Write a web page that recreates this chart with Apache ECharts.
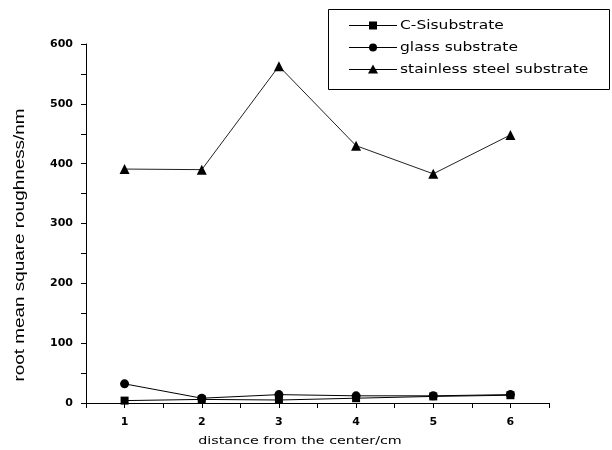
<!DOCTYPE html>
<html>
<head>
<meta charset="utf-8">
<script src="https://cdn.jsdelivr.net/npm/echarts@6/dist/echarts.min.js"></script>
<style>
  html, body { margin: 0; padding: 0; background: #fff; }
  #chart { width: 612px; height: 450px; }
</style>
</head>
<body>
<div id="chart"></div>
<script>
// distance from the center (cm)
const distances = [1, 2, 3, 4, 5, 6];
// root mean square roughness (nm) per substrate
const cSiValues = [4, 6, 5, 8, 11, 13];
const glassValues = [32, 8, 14, 12, 12, 14];
const steelValues = [391, 390, 563, 430, 383, 448];
const seriesNames = ['C-Sisubstrate', 'glass substrate', 'stainless steel substrate'];
const seriesSymbols = ['rect', 'circle', 'triangle'];
const xTitle = 'distance from the center/cm';
const yTitle = 'root mean square roughness/nm';

const pairs = vals => distances.map((d, i) => [d, vals[i]]);

const tickFont = { fontFamily: 'DejaVu Sans', fontWeight: 'bold', fontSize: 11, color: '#000' };
const axisLine = { lineStyle: { color: '#000', width: 1 } };

function lineSeries(name, vals, symbol, size, lineColor) {
  return {
    name: name,
    type: 'line',
    data: pairs(vals),
    symbol: symbol,
    symbolSize: size,
    showSymbol: true,
    itemStyle: { color: '#000' },
    lineStyle: { color: lineColor, width: 1 },
    emphasis: { disabled: true },
    animation: false
  };
}

// boxed key: short line with the series symbol, then the name
function legendGraphic() {
  const box = { left: 328, top: 9, width: 281, height: 80 };
  const rowY = [25.5, 47.5, 69.5];
  const children = [{
    type: 'rect',
    shape: { x: box.left + 0.5, y: box.top + 0.5, width: box.width, height: box.height },
    style: { fill: '#fff', stroke: '#000', lineWidth: 1 }
  }];
  rowY.forEach((y, i) => {
    children.push({
      type: 'line',
      shape: { x1: 349, y1: y, x2: 397, y2: y },
      style: { stroke: '#000', lineWidth: 1 }
    });
    const cx = 373;
    if (seriesSymbols[i] === 'rect') {
      children.push({ type: 'rect', shape: { x: cx - 4, y: y - 4, width: 8, height: 8 }, style: { fill: '#000' } });
    } else if (seriesSymbols[i] === 'circle') {
      children.push({ type: 'circle', shape: { cx: cx, cy: y, r: 4 }, style: { fill: '#000' } });
    } else {
      children.push({ type: 'polygon', shape: { points: [[cx, y - 5], [cx + 5, y + 4], [cx - 5, y + 4]] }, style: { fill: '#000' } });
    }
    children.push({
      type: 'text',
      x: 400, y: y,
      scaleX: 1.29,
      style: {
        text: seriesNames[i], fill: '#000',
        font: '12px "DejaVu Sans"', textAlign: 'left', textVerticalAlign: 'middle'
      }
    });
  });
  return { type: 'group', z: 100, children: children };
}

const chart = echarts.init(document.getElementById('chart'), null, { renderer: 'canvas' });
chart.setOption({
  backgroundColor: '#fff',
  animation: false,
  grid: { left: 86, top: 44, right: 63, bottom: 47, containLabel: false },
  xAxis: {
    type: 'value',
    min: 0.5,
    max: 6.5,
    interval: 0.5,
    axisLine: Object.assign({ onZero: false }, axisLine),
    axisTick: { show: true, inside: false, length: 5, lineStyle: { color: '#000' } },
    axisLabel: Object.assign({
      margin: 14,
      formatter: v => (Math.abs(v - Math.round(v)) < 1e-9 ? String(Math.round(v)) : '')
    }, tickFont),
    splitLine: { show: false }
  },
  yAxis: {
    type: 'value',
    min: 0,
    max: 600,
    interval: 50,
    axisLine: axisLine,
    axisTick: { show: true, inside: false, length: 5, lineStyle: { color: '#000' } },
    axisLabel: Object.assign({
      margin: 13,
      formatter: v => (v % 100 === 0 ? String(v) : '')
    }, tickFont),
    splitLine: { show: false }
  },
  graphic: [
    {
      type: 'text', x: 300, y: 441, scaleX: 1.3,
      style: {
        text: xTitle, fill: '#000', font: '11px "DejaVu Sans"',
        textAlign: 'center', textVerticalAlign: 'middle'
      }
    },
    {
      type: 'text', x: 20, y: 245, rotation: Math.PI / 2, scaleX: 1.35,
      style: {
        text: yTitle, fill: '#000', font: '14px "Liberation Sans"',
        textAlign: 'center', textVerticalAlign: 'middle'
      }
    },
    legendGraphic()
  ],
  series: [
    lineSeries(seriesNames[0], cSiValues, 'rect', 8, '#000'),
    lineSeries(seriesNames[1], glassValues, 'circle', 9, '#000'),
    lineSeries(seriesNames[2], steelValues, 'triangle', 10, '#222')
  ]
});
</script>
</body>
</html>
